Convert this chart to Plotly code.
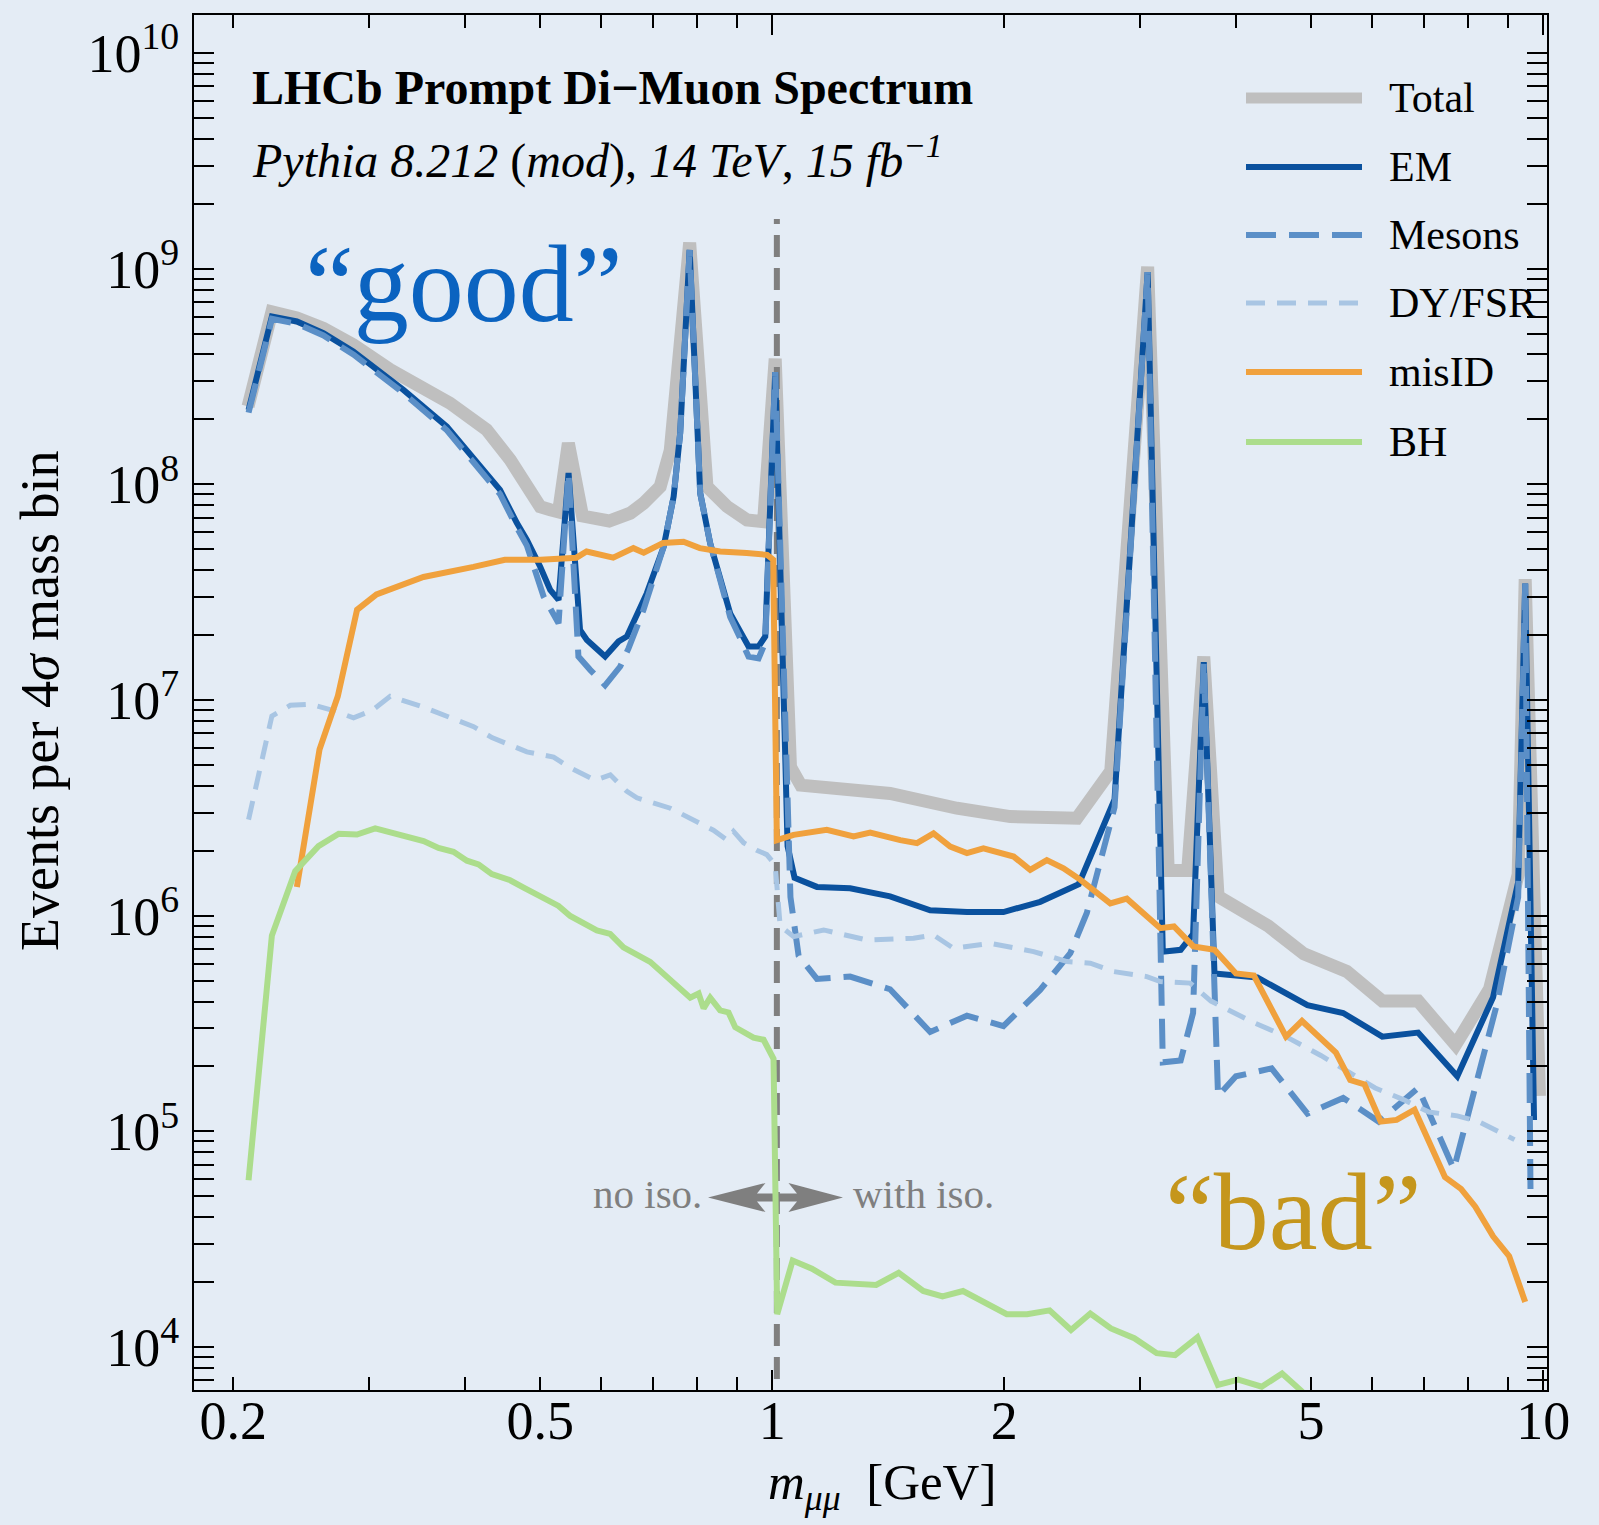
import plotly.graph_objects as go

# ---------------- data ----------------
total_x = [0.209, 0.2244, 0.2418, 0.2618, 0.2862, 0.3195, 0.3819, 0.4261, 0.4572, 0.4760,
           0.5001, 0.5153, 0.5283, 0.544, 0.5675, 0.6144, 0.6545, 0.6809, 0.7157, 0.7376,
           0.7815, 0.8229, 0.874, 0.9273, 0.9745, 1.009, 1.056, 1.089, 1.166, 1.327,
           1.422, 1.736, 2.036, 2.484, 2.749, 3.069, 3.263, 3.459, 3.629, 3.787,
           4.398, 4.894, 5.562, 6.185, 6.884, 7.698, 8.519, 9.281, 9.478, 9.89]
total_y = [2.3e8, 6.3e8, 5.9e8, 5.28e8, 4.44e8, 3.40e8, 2.38e8, 1.79e8, 1.30e8, 1.01e8,
           7.87e7, 7.62e7, 7.45e7, 1.55e8, 7.13e7, 6.76e7, 7.35e7, 8.17e7, 9.77e7, 1.44e8,
           1.32e9, 9.77e7, 7.89e7, 6.84e7, 6.71e7, 3.82e8, 4.90e6, 4.03e6, 3.95e6, 3.70e6,
           3.69e6, 3.15e6, 2.88e6, 2.83e6, 4.69e6, 1.02e9, 1.62e6, 1.62e6, 1.59e7, 1.23e6,
           8.96e5, 6.66e5, 5.52e5, 4.02e5, 4.02e5, 2.52e5, 4.56e5, 1.55e6, 3.63e7, 1.46e5]

em_x = [0.2093, 0.2244, 0.2418, 0.2618, 0.2862, 0.3324, 0.3785, 0.4219, 0.4436, 0.4665,
        0.4806, 0.5001, 0.5153, 0.5283, 0.5443, 0.5633, 0.575, 0.6071, 0.632, 0.6479,
        0.6877, 0.7231, 0.745, 0.7597, 0.7815, 0.8065, 0.8309, 0.882, 0.909, 0.9318,
        0.9601, 0.9795, 1.009, 1.047, 1.069, 1.143, 1.262, 1.422, 1.603, 1.789,
        1.995, 2.226, 2.498, 2.78, 3.069, 3.211, 3.387, 3.515, 3.629, 3.747,
        4.258, 4.946, 5.503, 6.185, 6.884, 7.738, 8.611, 9.281, 9.478, 9.732]
em_y = [2.21e8, 6.0e8, 5.69e8, 5.02e8, 4.13e8, 2.74e8, 1.85e8, 1.17e8, 9.42e7, 6.61e7,
        5.52e7, 4.15e7, 3.24e7, 2.91e7, 1.13e8, 2.11e7, 1.90e7, 1.59e7, 1.87e7, 1.97e7,
        3.13e7, 5.14e7, 8.77e7, 1.73e8, 1.22e9, 9.1e7, 5.33e7, 2.52e7, 2.11e7, 1.77e7,
        1.77e7, 1.97e7, 3.31e8, 2.10e6, 1.50e6, 1.36e6, 1.34e6, 1.23e6, 1.06e6, 1.04e6,
        1.04e6, 1.16e6, 1.40e6, 3.46e6, 9.64e8, 6.81e5, 6.95e5, 8.22e5, 1.50e7, 5.40e5,
        5.17e5, 3.85e5, 3.54e5, 2.75e5, 2.87e5, 1.80e5, 4.19e5, 1.43e6, 3.47e7, 1.13e5]

mesons_x = [0.2093, 0.2244, 0.2418, 0.2618, 0.2862, 0.3324, 0.3785, 0.4219, 0.4436, 0.4665,
            0.4806, 0.5052, 0.5283, 0.5443, 0.5606, 0.5806, 0.6071, 0.6351, 0.6513, 0.6809,
            0.7231, 0.745, 0.7597, 0.7815, 0.8065, 0.8309, 0.882, 0.909, 0.9318, 0.9601,
            0.9795, 1.009, 1.056, 1.082, 1.143, 1.262, 1.422, 1.603, 1.789, 1.995,
            2.226, 2.436, 2.559, 2.78, 3.069, 3.211, 3.387, 3.515, 3.629, 3.787,
            3.995, 4.444, 4.946, 5.503, 6.12, 6.884, 7.658, 8.704, 9.281, 9.478, 9.632]
mesons_y = [2.15e8, 5.85e8, 5.55e8, 4.9e8, 4.0e8, 2.65e8, 1.78e8, 1.12e8, 9.0e7, 6.3e7,
            5.2e7, 3.02e7, 2.27e7, 1.13e8, 1.59e7, 1.38e7, 1.17e7, 1.43e7, 1.74e7, 2.62e7,
            5.14e7, 8.77e7, 1.73e8, 1.22e9, 9.1e7, 5.33e7, 2.43e7, 1.93e7, 1.59e7, 1.56e7,
            1.85e7, 3.31e8, 1.22e6, 6.53e5, 5.09e5, 5.22e5, 4.56e5, 2.89e5, 3.44e5, 3.08e5,
            4.53e5, 6.70e5, 1.03e6, 3.18e6, 9.64e8, 2.09e5, 2.13e5, 3.54e5, 1.50e7, 1.46e5,
            1.80e5, 1.96e5, 1.21e5, 1.43e5, 1.11e5, 1.59e5, 6.68e4, 3.85e5, 1.22e6, 3.47e7, 4.77e4]

dy_x = [0.2093, 0.2244, 0.2371, 0.2517, 0.2698, 0.2864, 0.3025, 0.3195, 0.353, 0.3899,
        0.41, 0.4329, 0.4806, 0.5205, 0.547, 0.5893, 0.6166, 0.6479, 0.6674, 0.7376,
        0.791, 0.839, 0.874, 0.891, 0.918, 0.955, 0.984, 1.009, 1.024, 1.066,
        1.166, 1.327, 1.525, 1.619, 1.719, 1.918, 2.183, 2.412, 2.586, 2.772,
        3.062, 3.187, 3.484, 3.708, 4.169, 4.639, 5.148, 5.62, 6.055, 6.598,
        7.108, 7.738, 8.25, 9.18]
dy_y = [2.79e6, 8.43e6, 9.45e6, 9.57e6, 8.94e6, 8.26e6, 8.94e6, 1.04e7, 9.27e6, 8.11e6,
        7.52e6, 6.70e6, 5.75e6, 5.44e6, 4.85e6, 4.25e6, 4.50e6, 3.77e6, 3.52e6, 3.15e6,
        2.75e6, 2.49e6, 2.24e6, 2.46e6, 2.18e6, 2.01e6, 1.92e6, 1.72e6, 8.95e5, 8.00e5,
        8.59e5, 7.71e5, 7.86e5, 8.14e5, 7.06e5, 7.45e5, 6.82e5, 6.13e5, 6.02e5, 5.51e5,
        5.22e5, 4.95e5, 4.87e5, 4.02e5, 3.25e5, 2.75e5, 2.25e5, 1.88e5, 1.59e5, 1.40e5,
        1.23e5, 1.18e5, 1.11e5, 9.16e4]

misid_x = [0.2418, 0.2587, 0.2732, 0.2894, 0.3067, 0.3529, 0.4098, 0.45, 0.5007, 0.5572,
           0.5744, 0.6219, 0.6606, 0.6813, 0.7221, 0.7673, 0.8055, 0.856, 0.9267, 0.9849,
           1.003, 1.014, 1.066, 1.177, 1.275, 1.34, 1.466, 1.541, 1.619, 1.702,
           1.789, 1.879, 2.057, 2.161, 2.271, 2.387, 2.509, 2.745, 2.884, 3.187,
           3.32, 3.518, 3.747, 3.995, 4.215, 4.639, 4.866, 5.385, 5.62, 5.866,
           6.156, 6.455, 6.811, 7.458, 7.825, 8.166, 8.611, 9.035, 9.478]
misid_y = [1.36e6, 5.9e6, 1.04e7, 2.62e7, 3.09e7, 3.72e7, 4.14e7, 4.47e7, 4.47e7, 4.57e7,
           4.88e7, 4.57e7, 5.06e7, 4.82e7, 5.35e7, 5.42e7, 5.06e7, 4.88e7, 4.80e7, 4.71e7,
           4.47e7, 2.24e6, 2.37e6, 2.50e6, 2.33e6, 2.43e6, 2.24e6, 2.17e6, 2.41e6, 2.09e6,
           1.95e6, 2.05e6, 1.88e6, 1.63e6, 1.81e6, 1.66e6, 1.47e6, 1.14e6, 1.20e6, 8.75e5,
           8.92e5, 7.21e5, 6.95e5, 5.40e5, 5.28e5, 2.75e5, 3.25e5, 2.32e5, 1.73e5, 1.65e5,
           1.11e5, 1.13e5, 1.26e5, 6.14e4, 5.41e4, 4.48e4, 3.26e4, 2.64e4, 1.62e4]

bh_x = [0.2093, 0.2244, 0.2406, 0.2579, 0.274, 0.2893, 0.3055, 0.3325, 0.353, 0.3691,
        0.386, 0.4018, 0.416, 0.4328, 0.4572, 0.476, 0.5028, 0.5283, 0.547, 0.5721,
        0.5923, 0.6163, 0.6413, 0.6946, 0.7303, 0.7828, 0.8027, 0.8147, 0.8309, 0.856,
        0.8777, 0.8954, 0.9458, 0.9745, 1.004, 1.015, 1.063, 1.126, 1.208, 1.364,
        1.459, 1.57, 1.663, 1.768, 2.015, 2.141, 2.29, 2.441, 2.586, 2.75,
        2.949, 3.153, 3.331, 3.561, 3.785, 4.023, 4.314, 4.585, 4.874]
bh_y = [5.93e4, 8.09e5, 1.61e6, 2.10e6, 2.40e6, 2.38e6, 2.54e6, 2.35e6, 2.22e6, 2.06e6,
        1.98e6, 1.80e6, 1.73e6, 1.56e6, 1.46e6, 1.35e6, 1.21e6, 1.11e6, 9.97e5, 9.07e5,
        8.55e5, 8.24e5, 7.14e5, 6.11e5, 5.22e5, 4.17e5, 4.36e5, 3.72e5, 4.17e5, 3.64e5,
        3.56e5, 3.04e5, 2.72e5, 2.66e5, 2.17e5, 1.42e4, 2.52e4, 2.31e4, 1.99e4, 1.94e4,
        2.21e4, 1.82e4, 1.72e4, 1.82e4, 1.42e4, 1.42e4, 1.48e4, 1.20e4, 1.43e4, 1.22e4,
        1.10e4, 9.37e3, 9.17e3, 1.11e4, 6.68e3, 7.06e3, 6.55e3, 7.54e3, 6.2e3]

iso_cut_x = [1.014, 1.014]
iso_cut_y = [5.0e3, 1.7e9]

x_tick_vals = [0.2, 0.5, 1, 2, 5, 10]
x_tick_text = ["0.2", "0.5", "1", "2", "5", "10"]
x_minor_vals = [0.3, 0.4, 0.6, 0.7, 0.8, 0.9, 3, 4, 6, 7, 8, 9]
y_tick_vals = [1e4, 1e5, 1e6, 1e7, 1e8, 1e9, 1e10]
y_tick_text = ["10<sup>4</sup>", "10<sup>5</sup>", "10<sup>6</sup>", "10<sup>7</sup>",
               "10<sup>8</sup>", "10<sup>9</sup>", "10<sup>10</sup>"]
y_minor_vals = [k * 10.0 ** n for n in range(3, 11) for k in range(2, 10)]

legend_names = ["Total", "EM", "Mesons", "DY/FSR", "misID", "BH"]

# ---------------- styles ----------------
FONT = "Liberation Serif"
BG = "#e4ecf5"
C_TOTAL = "#bfbfbf"
C_EM = "#0a519e"
C_MES = "#5b8fc7"
C_DY = "#a8c5e3"
C_MIS = "#f0a13d"
C_BH = "#acdd8c"
GRAY = "#7f7f7f"

styles = {
    "Total": dict(color=C_TOTAL, width=13, dash="solid"),
    "EM": dict(color=C_EM, width=6, dash="solid"),
    "Mesons": dict(color=C_MES, width=6, dash="30px,13px"),
    "DY/FSR": dict(color=C_DY, width=5, dash="19px,12px"),
    "misID": dict(color=C_MIS, width=6, dash="solid"),
    "BH": dict(color=C_BH, width=6, dash="solid"),
}

fig = go.Figure()
fig.add_trace(go.Scatter(x=total_x, y=total_y, mode="lines", name="Total",
                         line=styles["Total"], showlegend=False))
fig.add_trace(go.Scatter(x=iso_cut_x, y=iso_cut_y, mode="lines", name="iso cut",
                         line=dict(color=GRAY, width=6, dash="22px,11px"), showlegend=False))
fig.add_trace(go.Scatter(x=em_x, y=em_y, mode="lines", name="EM",
                         line=styles["EM"], showlegend=False))
fig.add_trace(go.Scatter(x=mesons_x, y=mesons_y, mode="lines", name="Mesons",
                         line=styles["Mesons"], showlegend=False))
fig.add_trace(go.Scatter(x=dy_x, y=dy_y, mode="lines", name="DY/FSR",
                         line=styles["DY/FSR"], showlegend=False))
fig.add_trace(go.Scatter(x=misid_x, y=misid_y, mode="lines", name="misID",
                         line=styles["misID"], showlegend=False))
fig.add_trace(go.Scatter(x=bh_x, y=bh_y, mode="lines", name="BH",
                         line=styles["BH"], showlegend=False))
# invisible helper trace for the long major ticks at 1 and 10
fig.add_trace(go.Scatter(x=[1], y=[1e5], xaxis="x2", mode="markers",
                         marker=dict(opacity=0), hoverinfo="skip", showlegend=False))

XR = [-0.75, 1.005]
YR = [3.801, 10.176]

fig.update_layout(
    width=1599, height=1525, autosize=False,
    margin=dict(l=194, r=52, t=15, b=135, pad=0),
    paper_bgcolor=BG, plot_bgcolor=BG,
    font=dict(family=FONT, color="black"),
    xaxis=dict(type="log", range=XR, showline=True, linecolor="black", linewidth=2,
               mirror="allticks", ticks="inside", ticklen=13, tickwidth=2, tickcolor="black",
               tickvals=x_tick_vals, ticktext=x_tick_text, showgrid=False, zeroline=False,
               tickfont=dict(family=FONT, size=54, color="black"), ticklabelstandoff=-18,
               minor=dict(tickvals=x_minor_vals, ticks="inside", ticklen=13, tickwidth=2,
                          tickcolor="black", showgrid=False)),
    xaxis2=dict(type="log", range=XR, overlaying="x", anchor="y", side="bottom",
                showline=False, mirror="allticks", ticks="inside", ticklen=20, tickwidth=2,
                tickcolor="black", tickvals=[1, 10], showticklabels=False,
                showgrid=False, zeroline=False),
    yaxis=dict(type="log", range=YR, showline=True, linecolor="black", linewidth=2,
               mirror="allticks", ticks="inside", ticklen=20, tickwidth=2, tickcolor="black",
               tickvals=y_tick_vals, ticktext=y_tick_text, showgrid=False, zeroline=False,
               tickfont=dict(family=FONT, size=54, color="black"), ticklabelstandoff=2,
               minor=dict(tickvals=y_minor_vals, ticks="inside", ticklen=10, tickwidth=2,
                          tickcolor="black", showgrid=False)),
)

# ---------------- helpers for paper coordinates ----------------
PL, PT, PW, PH = 194.0, 15.0, 1353.0, 1375.0


def px(xp):
    return (xp - PL) / PW


def py(yp):
    return 1 - (yp - PT) / PH


annotations = []
annotations.append(dict(text="<b>LHCb Prompt Di\u2212Muon Spectrum</b>", x=px(250), y=py(87),
                        xref="paper", yref="paper", xanchor="left", yanchor="middle",
                        showarrow=False, font=dict(family=FONT, size=48, color="black")))
annotations.append(dict(text="<i>Pythia 8.212</i> (<i>mod</i>), <i>14 TeV</i>, <i>15 fb</i><sup><i>\u22121</i></sup>",
                        x=px(250), y=py(157), xref="paper", yref="paper",
                        xanchor="left", yanchor="middle", showarrow=False,
                        font=dict(family=FONT, size=48, color="black")))
annotations.append(dict(text="\u201cgood\u201d", x=px(464), y=py(284), xref="paper", yref="paper",
                        xanchor="center", yanchor="middle", showarrow=False,
                        font=dict(family=FONT, size=110, color="#0b63c0")))
annotations.append(dict(text="\u201cbad\u201d", x=px(1293), y=py(1212), xref="paper", yref="paper",
                        xanchor="center", yanchor="middle", showarrow=False,
                        font=dict(family=FONT, size=110, color="#c5961c")))
annotations.append(dict(text="no iso.", x=px(704), y=py(1194), xref="paper", yref="paper",
                        xanchor="right", yanchor="middle", showarrow=False,
                        font=dict(family=FONT, size=41, color=GRAY)))
annotations.append(dict(text="with iso.", x=px(851), y=py(1194), xref="paper", yref="paper",
                        xanchor="left", yanchor="middle", showarrow=False,
                        font=dict(family=FONT, size=41, color=GRAY)))
annotations.append(dict(text="<i>m</i><sub><i>\u03bc\u03bc</i></sub>  [GeV]", x=px(882), y=py(1486),
                        xref="paper", yref="paper", xanchor="center", yanchor="middle",
                        showarrow=False, font=dict(family=FONT, size=51, color="black")))
annotations.append(dict(text="Events per 4<i>\u03c3</i> mass bin", x=px(40), y=py(701),
                        xref="paper", yref="paper", xanchor="center", yanchor="middle",
                        textangle=-90, showarrow=False,
                        font=dict(family=FONT, size=54, color="black")))

# manual legend
leg_y = [98, 167, 235, 303, 372, 442]
shapes = []
for name, ly in zip(legend_names, leg_y):
    st = styles[name]
    w = 11 if name == "Total" else st["width"]
    shapes.append(dict(type="line", xref="paper", yref="paper", x0=px(1246), x1=px(1362),
                       y0=py(ly), y1=py(ly), layer="above",
                       line=dict(color=st["color"], width=w, dash=st["dash"])))
    annotations.append(dict(text=name, x=px(1387), y=py(ly), xref="paper", yref="paper",
                            xanchor="left", yanchor="middle", showarrow=False,
                            font=dict(family=FONT, size=42, color="black")))

# double-headed arrow (no iso. <-> with iso.)
arrow_pts = [(708, 1197.5), (765.5, 1183), (757, 1193.5), (797, 1193.5), (788.5, 1183),
             (843, 1197.5), (788.5, 1212), (797, 1201.5), (757, 1201.5), (765.5, 1212)]
path = "M " + " L ".join(f"{px(a):.5f},{py(b):.5f}" for a, b in arrow_pts) + " Z"
shapes.append(dict(type="path", xref="paper", yref="paper", path=path, layer="below",
                   fillcolor=GRAY, line=dict(width=0)))

fig.update_layout(annotations=annotations, shapes=shapes)
fig.write_html("out.html")
